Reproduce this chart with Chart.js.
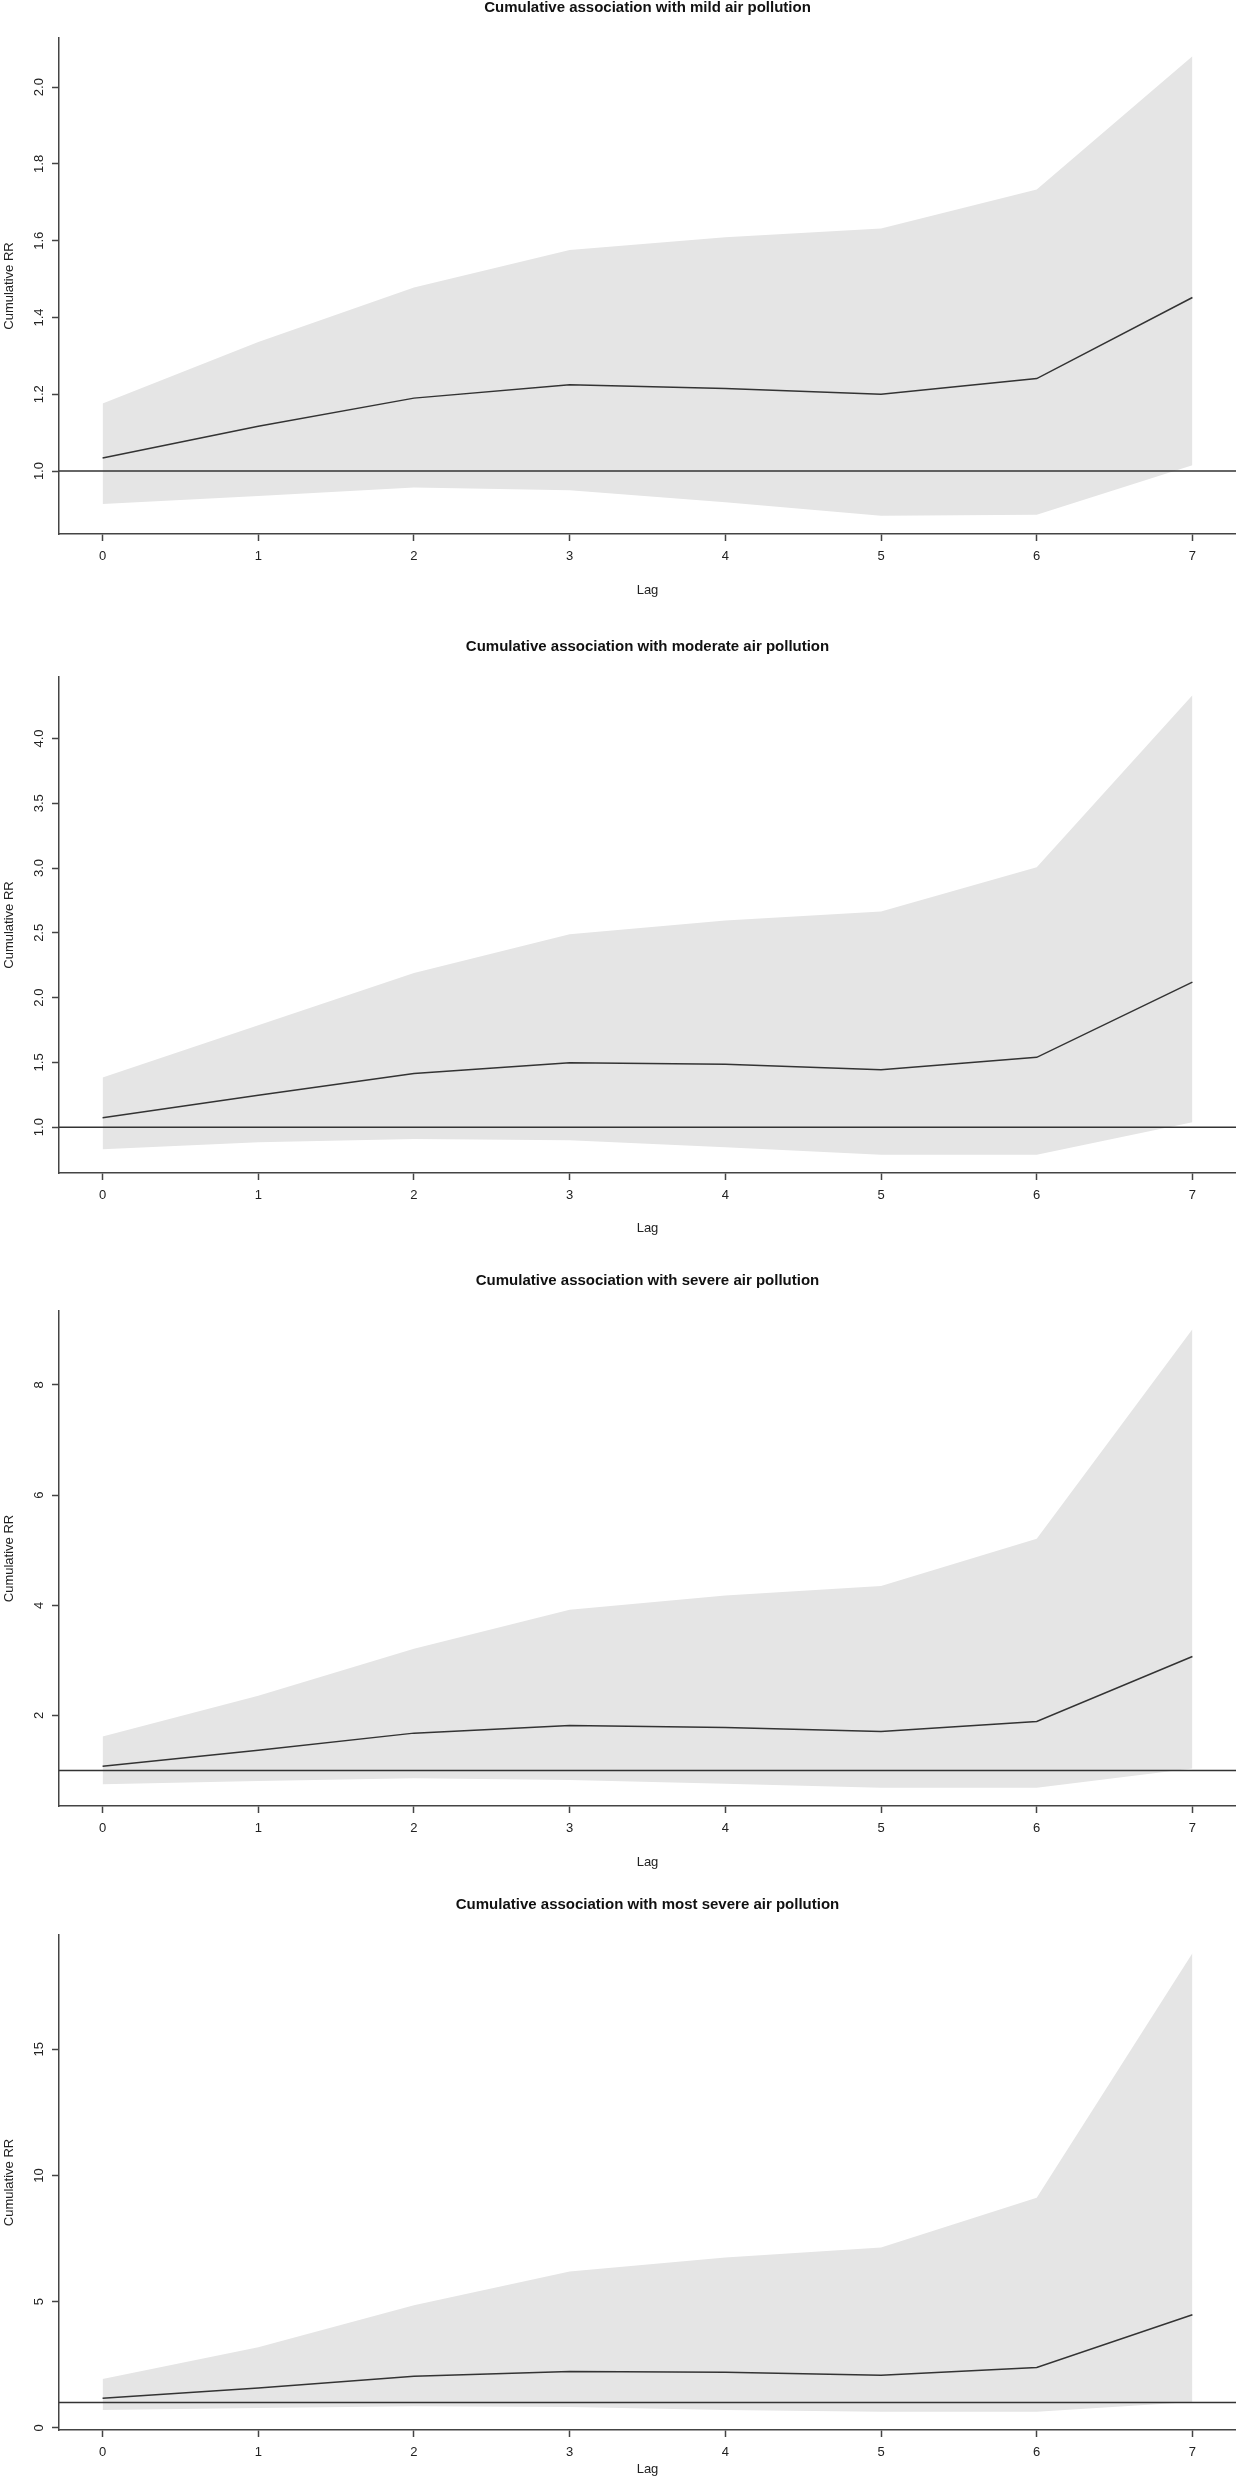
<!DOCTYPE html>
<html>
<head>
<meta charset="utf-8">
<title>Cumulative association with air pollution</title>
<script src="https://cdn.jsdelivr.net/npm/chart.js@4.4.1/dist/chart.umd.min.js"></script>
<style>
  html, body { margin: 0; padding: 0; background: #fff; }
  #page { position: relative; width: 1236px; height: 2479px; overflow: hidden; }
  #page canvas { position: absolute; left: 0; }
</style>
</head>
<body>
<div id="page">
  <canvas id="mildChart"></canvas>
  <canvas id="moderateChart"></canvas>
  <canvas id="severeChart"></canvas>
  <canvas id="mostChart"></canvas>
</div>
<script>
const lags = [0, 1, 2, 3, 4, 5, 6, 7];
const lagLabels = ["0", "1", "2", "3", "4", "5", "6", "7"];

// cumulative RR with 95% CI
const mildRR = [1.034, 1.117, 1.19, 1.225, 1.215, 1.2, 1.241, 1.452];
const mildLow = [0.914, 0.935, 0.957, 0.95, 0.919, 0.884, 0.886, 1.015];
const mildHigh = [1.176, 1.336, 1.478, 1.576, 1.609, 1.632, 1.733, 2.08];
const mildTicks = [1.0, 1.2, 1.4, 1.6, 1.8, 2.0];
const mildTickLabels = ["1.0", "1.2", "1.4", "1.6", "1.8", "2.0"];

const moderateRR = [1.073, 1.247, 1.415, 1.498, 1.485, 1.444, 1.539, 2.119];
const moderateLow = [0.829, 0.883, 0.908, 0.899, 0.845, 0.788, 0.788, 1.038];
const moderateHigh = [1.384, 1.786, 2.19, 2.49, 2.595, 2.665, 3.007, 4.333];
const moderateTicks = [1.0, 1.5, 2.0, 2.5, 3.0, 3.5, 4.0];
const moderateTickLabels = ["1.0", "1.5", "2.0", "2.5", "3.0", "3.5", "4.0"];

const severeRR = [1.08, 1.37, 1.68, 1.82, 1.78, 1.71, 1.89, 3.07];
const severeLow = [0.75, 0.81, 0.86, 0.83, 0.76, 0.69, 0.69, 1.04];
const severeHigh = [1.62, 2.36, 3.21, 3.92, 4.18, 4.35, 5.21, 9.01];
const severeTicks = [2, 4, 6, 8];
const severeTickLabels = ["2", "4", "6", "8"];

const mostRR = [1.17, 1.58, 2.04, 2.23, 2.2, 2.08, 2.39, 4.48];
const mostLow = [0.71, 0.79, 0.85, 0.82, 0.71, 0.64, 0.64, 1.02];
const mostHigh = [1.93, 3.19, 4.86, 6.19, 6.75, 7.14, 9.12, 18.8];
const mostTicks = [0, 5, 10, 15];
const mostTickLabels = ["0", "5", "10", "15"];

const FONT = '"Liberation Sans", Arial, Helvetica, sans-serif';
const INK = "#333";
const AXIS = "#444";
const BAND = "#e5e5e5";

const panels = [
  { id: "mildChart", title: "Cumulative association with mild air pollution",
    rr: mildRR, low: mildLow, high: mildHigh, ticks: mildTicks, tickLabels: mildTickLabels,
    top: 0, height: 620, plotBottom: 534, lagPad: 22 },
  { id: "moderateChart", title: "Cumulative association with moderate air pollution",
    rr: moderateRR, low: moderateLow, high: moderateHigh, ticks: moderateTicks, tickLabels: moderateTickLabels,
    top: 639, height: 620, plotBottom: 534, lagPad: 23 },
  { id: "severeChart", title: "Cumulative association with severe air pollution",
    rr: severeRR, low: severeLow, high: severeHigh, ticks: severeTicks, tickLabels: severeTickLabels,
    top: 1273, height: 620, plotBottom: 533, lagPad: 23 },
  { id: "mostChart", title: "Cumulative association with most severe air pollution",
    rr: mostRR, low: mostLow, high: mostHigh, ticks: mostTicks, tickLabels: mostTickLabels,
    top: 1897, height: 582, plotBottom: 533, lagPad: 2 }
];

// R-style axis range: data range widened by 4% on each side
function paddedRange(lo, hi) {
  const pad = (hi - lo) * 0.04;
  return { min: lo - pad, max: hi + pad };
}

function points(values) {
  return lags.map((lag, i) => ({ x: lag, y: values[i] }));
}

const refLine = {
  id: "refLine",
  afterDatasetsDraw(chart) {
    const { ctx, chartArea, scales } = chart;
    const y = scales.y.getPixelForValue(1);
    ctx.save();
    ctx.strokeStyle = INK;
    ctx.lineWidth = 1.5;
    ctx.beginPath();
    ctx.moveTo(chartArea.left, y);
    ctx.lineTo(chartArea.right, y);
    ctx.stroke();
    ctx.restore();
  }
};

// y tick labels turned 90deg like R's las = 0
const yLabels = {
  id: "yLabels",
  afterDraw(chart, args, opts) {
    const { ctx, scales } = chart;
    ctx.save();
    ctx.font = `13px ${FONT}`;
    ctx.fillStyle = "#222";
    ctx.textAlign = "center";
    ctx.textBaseline = "middle";
    opts.values.forEach((v, i) => {
      const y = scales.y.getPixelForValue(v);
      ctx.save();
      ctx.translate(39, y);
      ctx.rotate(-Math.PI / 2);
      ctx.fillText(opts.labels[i], 0, 0);
      ctx.restore();
    });
    ctx.restore();
  }
};

function makePanel(p) {
  const canvas = document.getElementById(p.id);
  canvas.width = 1236;
  canvas.height = p.height;
  canvas.style.top = `${p.top}px`;
  canvas.style.width = "1236px";
  canvas.style.height = `${p.height}px`;

  const xRange = paddedRange(Math.min(...lags), Math.max(...lags));
  const yRange = paddedRange(Math.min(...p.low), Math.max(...p.high));

  return new Chart(canvas, {
    type: "line",
    data: {
      datasets: [
        { label: "RR", data: points(p.rr), borderColor: INK, borderWidth: 1.5,
          pointRadius: 0, tension: 0, fill: false },
        { label: "upper", data: points(p.high), borderWidth: 0, borderColor: "rgba(0,0,0,0)",
          backgroundColor: BAND, pointRadius: 0, tension: 0, fill: "+1" },
        { label: "lower", data: points(p.low), borderWidth: 0, borderColor: "rgba(0,0,0,0)",
          pointRadius: 0, tension: 0, fill: false }
      ]
    },
    options: {
      responsive: false,
      animation: false,
      devicePixelRatio: 1,
      layout: { padding: 0 },
      plugins: {
        legend: { display: false },
        tooltip: { enabled: false },
        title: {
          display: true,
          text: p.title,
          fullSize: false,
          color: "#111",
          font: { family: FONT, size: 15, weight: "bold", lineHeight: 1 },
          padding: { top: 0, bottom: 23 }
        },
        yLabels: { values: p.ticks, labels: p.tickLabels }
      },
      scales: {
        x: {
          type: "linear",
          min: xRange.min,
          max: xRange.max,
          afterBuildTicks: (scale) => { scale.ticks = lags.map((v) => ({ value: v })); },
          afterFit: (scale) => { scale.height = p.height - p.plotBottom; },
          border: { display: true, color: AXIS, width: 1.5 },
          grid: { display: true, drawOnChartArea: false, drawTicks: true, tickLength: 7,
                  tickColor: AXIS, tickWidth: 1.5 },
          ticks: {
            padding: 8,
            color: "#222",
            font: { family: FONT, size: 13 },
            maxRotation: 0,
            callback: (v) => lagLabels[lags.indexOf(v)]
          },
          title: {
            display: true,
            text: "Lag",
            color: "#222",
            font: { family: FONT, size: 13 },
            padding: { top: 0, bottom: p.lagPad }
          }
        },
        y: {
          type: "linear",
          min: yRange.min,
          max: yRange.max,
          afterBuildTicks: (scale) => { scale.ticks = p.ticks.map((v) => ({ value: v })); },
          afterFit: (scale) => { scale.width = 59; },
          border: { display: true, color: AXIS, width: 1.5 },
          grid: { display: true, drawOnChartArea: false, drawTicks: true, tickLength: 7,
                  tickColor: AXIS, tickWidth: 1.5 },
          ticks: { display: false },
          title: {
            display: true,
            text: "Cumulative RR",
            color: "#222",
            font: { family: FONT, size: 13 },
            padding: { top: 2, bottom: 0 }
          }
        }
      }
    },
    plugins: [refLine, yLabels]
  });
}

panels.forEach(makePanel);
</script>
</body>
</html>
